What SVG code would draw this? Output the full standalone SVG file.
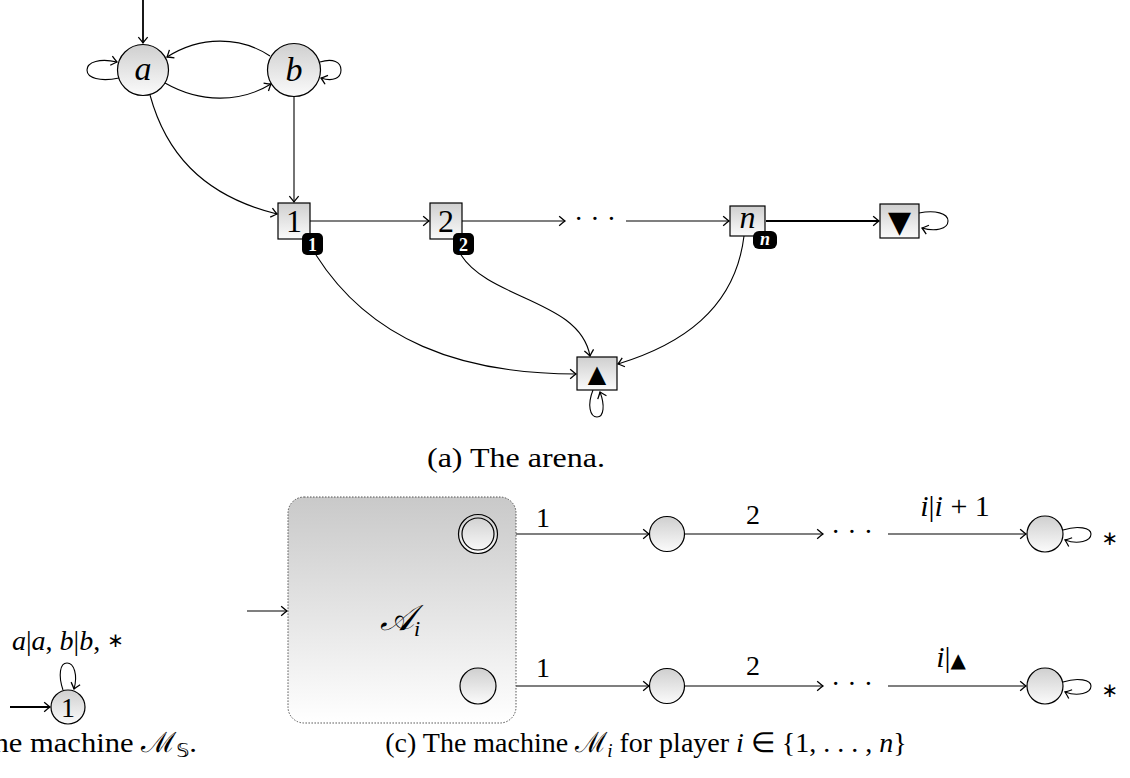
<svg xmlns="http://www.w3.org/2000/svg" width="1130" height="778" viewBox="0 0 1130 778">
<defs>
<linearGradient id="g" x1="0" y1="0" x2="0" y2="1"><stop offset="0" stop-color="#cfcfcf"/><stop offset="1" stop-color="#fbfbfb"/></linearGradient>
<linearGradient id="gb" x1="0" y1="0" x2="0" y2="1"><stop offset="0" stop-color="#c9c9c9"/><stop offset="1" stop-color="#ffffff"/></linearGradient>
<marker id="ar" markerUnits="userSpaceOnUse" markerWidth="14" markerHeight="14" viewBox="-8 -6 10 12" refX="0" refY="0" orient="auto"><path d="M-5,-4 Q-1.5,-1 0,0 Q-1.5,1 -5,4" fill="none" stroke="#000" stroke-width="1.1"/></marker>
</defs>
<style>
.n{fill:url(#g);stroke:#000;stroke-width:1.2}
.e{fill:none;stroke:#000;stroke-width:1.1;marker-end:url(#ar)}
.t{fill:none;stroke:#000;stroke-width:1.8;marker-end:url(#ar)}
.s{font-family:"Liberation Serif",serif;fill:#000}
.i{font-style:italic}
.bd{fill:#000}
.bt{font-family:"Liberation Serif",serif;font-weight:bold;fill:#fff;font-size:18px}
.ast{font-family:"DejaVu Sans",sans-serif;font-size:20px;fill:#000}
</style>
<g id="connectors">
<path class="t" d="M143,0 L143,43"/>
<path class="e" d="M119,78 C100,82 87,78 87,70 C87,62 100,58 117,62"/>
<path class="e" d="M320,62 C333,58 341,62 341,70 C341,78 333,82 321,78"/>
<path class="e" d="M165,83 C200,103 240,103 271,84"/>
<path class="e" d="M270,56 C240,36 200,36 167,57"/>
<path class="e" d="M150,95 C165,150 200,195 277,214"/>
<path class="e" d="M294,97 L294,202"/>
<path class="e" d="M310,221 L429,221"/>
<path class="e" d="M462,221 L565,221"/>
<path class="e" d="M626,221 L729,221"/>
<path class="t" d="M766,221 L879,221"/>
<path class="e" d="M919,213 C935,210 948,213 948,221 C948,229 935,232 922,228"/>
<path class="e" d="M316,255 C370,340 460,374 576,374"/>
<path class="e" d="M461,255 C490,300 580,300 590,356"/>
<path class="e" d="M744,236 C735,310 680,345 618,364"/>
<path class="e" d="M593,390 C587,405 590,417 597,417 C604,417 605,405 600,392"/>
<path class="t" d="M10,707 L50,707"/>
<path class="e" d="M63,690 C58,675 60,663 67,663 C74,663 78,675 74,689"/>
<path class="e" d="M247,611 L287,611"/>
<path class="e" d="M497,534 L649,534"/>
<path class="e" d="M685,534 L823,534"/>
<path class="e" d="M888,534 L1026,534"/>
<path class="e" d="M1063,530 C1078,525 1091,528 1091,534 C1091,541 1078,545 1065,540"/>
<path class="e" d="M496,686 L649,686"/>
<path class="e" d="M685,686 L823,686"/>
<path class="e" d="M888,686 L1026,686"/>
<path class="e" d="M1063,682 C1078,677 1091,680 1091,686 C1091,693 1078,697 1065,692"/>
</g>
<g id="node-a"><circle class="n" cx="143" cy="70" r="25.5"/><text class="s i" x="143" y="80" font-size="34" text-anchor="middle">a</text></g>
<g id="node-b"><circle class="n" cx="294" cy="70" r="26.5"/><text class="s i" x="294" y="81" font-size="34" text-anchor="middle">b</text></g>
<g id="node-1"><rect class="n" x="278" y="203" width="32" height="36"/><text class="s" x="294" y="232" font-size="32" text-anchor="middle">1</text>
<rect class="bd" x="302" y="233" width="21" height="22" rx="5"/><text class="bt" x="312.5" y="250.5" text-anchor="middle">1</text></g>
<g id="node-2"><rect class="n" x="430" y="203" width="32" height="36"/><text class="s" x="446" y="232" font-size="32" text-anchor="middle">2</text>
<rect class="bd" x="453" y="233" width="21" height="22" rx="5"/><text class="bt" x="463.5" y="250.5" text-anchor="middle">2</text></g>
<g id="node-dots"><text class="s" x="595" y="228" font-size="28" text-anchor="middle">· · ·</text></g>
<g id="node-n"><rect class="n" x="730" y="206" width="35" height="30"/><text class="s i" x="747.5" y="228" font-size="32" text-anchor="middle">n</text>
<rect class="bd" x="753" y="231" width="24" height="18" rx="6"/><text class="bt i" x="765" y="245" text-anchor="middle">n</text></g>
<g id="node-down"><rect class="n" x="880" y="204" width="39" height="34"/><text x="899.5" y="232" font-family="DejaVu Sans,sans-serif" font-size="30" text-anchor="middle">▼</text></g>
<g id="node-up"><rect class="n" x="577" y="357" width="40" height="33"/><text x="597" y="382" font-family="DejaVu Sans,sans-serif" font-size="24" text-anchor="middle">▲</text></g>
<g id="caption-a"><text class="s" x="516" y="467" font-size="28" text-anchor="middle" textLength="178" lengthAdjust="spacingAndGlyphs">(a) The arena.</text></g>
<g id="machine-s">
<circle class="n" cx="68" cy="707" r="17"/><text class="s" x="68" y="717" font-size="28" text-anchor="middle">1</text>
<text class="s" x="68" y="650" font-size="28" text-anchor="middle"><tspan class="i">a</tspan>|<tspan class="i">a</tspan>, <tspan class="i">b</tspan>|<tspan class="i">b</tspan>, <tspan font-family="DejaVu Sans,sans-serif" font-size="20" dy="-3">∗</tspan></text>
<text class="s" x="-68" y="752" font-size="28" textLength="265" lengthAdjust="spacingAndGlyphs">(b) The machine ℳ<tspan font-size="19" dy="5" font-family="DejaVu Sans,sans-serif">𝕊</tspan><tspan dy="-5">.</tspan></text>
</g>
<g id="machine-i">
<rect x="288" y="497" width="228" height="226" rx="16" fill="url(#gb)" stroke="#555" stroke-width="1" stroke-dasharray="1.5,1.5"/>
<text class="s" x="400" y="630" font-size="36" text-anchor="middle"><tspan class="i">𝒜</tspan><tspan class="i" font-size="22" dy="6">i</tspan></text>
<circle class="n" cx="478" cy="534" r="19.5"/><circle fill="none" stroke="#000" stroke-width="1.2" cx="478" cy="534" r="16"/>
<circle class="n" cx="478" cy="686" r="18"/>
<circle class="n" cx="667" cy="534" r="17.5"/>
<circle class="n" cx="1045" cy="534" r="18"/>
<circle class="n" cx="667" cy="686" r="17.5"/>
<circle class="n" cx="1045" cy="686" r="18"/>
<text class="s" x="543" y="527" font-size="28" text-anchor="middle">1</text>
<text class="s" x="753" y="524" font-size="28" text-anchor="middle">2</text>
<text class="s" x="852" y="541" font-size="28" text-anchor="middle">· · ·</text>
<text class="s" x="955" y="516" font-size="30" text-anchor="middle"><tspan class="i">i</tspan>|<tspan class="i">i</tspan> + 1</text>
<text class="ast" x="1110" y="545" text-anchor="middle">∗</text>
<text class="s" x="543" y="677" font-size="28" text-anchor="middle">1</text>
<text class="s" x="753" y="675" font-size="28" text-anchor="middle">2</text>
<text class="s" x="852" y="693" font-size="28" text-anchor="middle">· · ·</text>
<text class="s" x="951" y="667" font-size="30" text-anchor="middle"><tspan class="i">i</tspan>|<tspan font-family="DejaVu Sans,sans-serif" font-size="20">▲</tspan></text>
<text class="ast" x="1110" y="697" text-anchor="middle">∗</text>
<text class="s" x="646" y="752" font-size="28" text-anchor="middle">(c) The machine ℳ<tspan class="i" font-size="19" dy="5">i</tspan><tspan dy="-5"> for player </tspan><tspan class="i">i</tspan> ∈ {1, . . . , <tspan class="i">n</tspan>}</text>
</g>
</svg>
